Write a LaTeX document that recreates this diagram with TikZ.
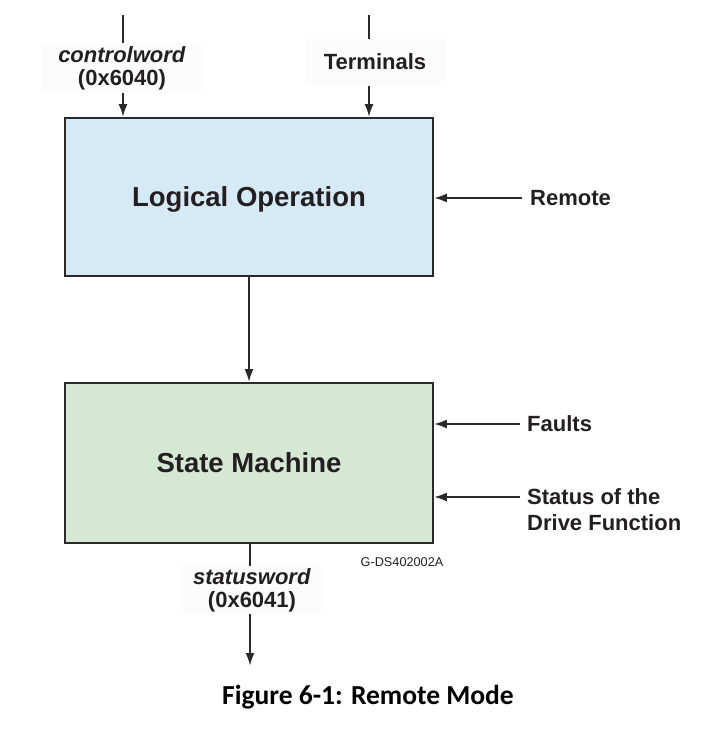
\documentclass[tikz,border=0pt]{standalone}
\usepackage{fontspec}
\setmainfont{Liberation Sans}
\newfontfamily\capfont{Carlito}
\usetikzlibrary{arrows.meta}
\definecolor{txt}{HTML}{231F20}
\definecolor{edge}{HTML}{2A2A2A}
\definecolor{blueA}{HTML}{D5E9F7}
\definecolor{greenA}{HTML}{D5E8D4}
\definecolor{lblbg}{HTML}{FCFCFC}
\begin{document}
\begin{tikzpicture}[x=1pt,y=-1pt,
  blockbox/.style={draw=edge, line width=1.8pt, minimum width=368pt, text=txt,
    text height=19pt, text depth=0pt,
    font=\fontsize{27.5}{30}\selectfont\bfseries},
  arr/.style={draw=edge, line width=2.2pt, -{Latex[length=13pt,width=9pt]}},
  inlbl/.style={fill=lblbg, text=txt, align=center, inner sep=0pt,
    font=\fontsize{22}{23}\selectfont\bfseries},
  sidelbl/.style={text=txt, align=left, anchor=west, inner sep=0pt,
    font=\fontsize{22}{25.5}\selectfont\bfseries}]
\useasboundingbox (0,0) rectangle (716,740);
% blocks
\node[blockbox, fill=blueA, minimum height=158pt] (lo) at (249,197) {Logical Operation};
\node[blockbox, fill=greenA, minimum height=160pt] (sm) at (249,463) {State Machine};
% top inputs
\coordinate (cwtop) at (123,15);
\coordinate (tetop) at (369,15);
\draw[arr] (cwtop) -- (cwtop |- lo.north);
\draw[arr] (tetop) -- (tetop |- lo.north);
\node[inlbl, minimum width=160pt, minimum height=50pt] (cw) at (122,68)
  {\textit{controlword}\\(0x6040)};
\node[inlbl, minimum width=141pt, minimum height=47pt] (te) at (375,62) {Terminals};
% middle
\draw[arr] (lo.south) -- (sm.north);
% right inputs
\node[sidelbl] (re) at (530,198) {Remote};
\coordinate (reS) at (522,198);
\draw[arr] (reS) -- (reS -| lo.east);
\node[sidelbl] (fa) at (527,424) {Faults};
\coordinate (faS) at (520,424);
\draw[arr] (faS) -- (faS -| sm.east);
\node[sidelbl] (st) at (527,509.5) {Status of the\\Drive Function};
\coordinate (stS) at (520,497);
\draw[arr] (stS) -- (stS -| sm.east);
% bottom output
\coordinate (swend) at (250,666);
\draw[arr] (sm.south -| swend) -- (swend);
\node[inlbl, minimum width=140pt, minimum height=48pt] (sw) at (252,590)
  {\textit{statusword}\\(0x6041)};
\node[text=txt, inner sep=0pt, font=\fontsize{12.7}{14}\selectfont] (gd) at (402,562) {G-DS402002A};
% caption
\node[inner sep=0pt, font=\capfont\fontsize{27.5}{30}\selectfont\bfseries] (cap) at (368,697) {Figure 6-1: Remote Mode};
\end{tikzpicture}
\end{document}
